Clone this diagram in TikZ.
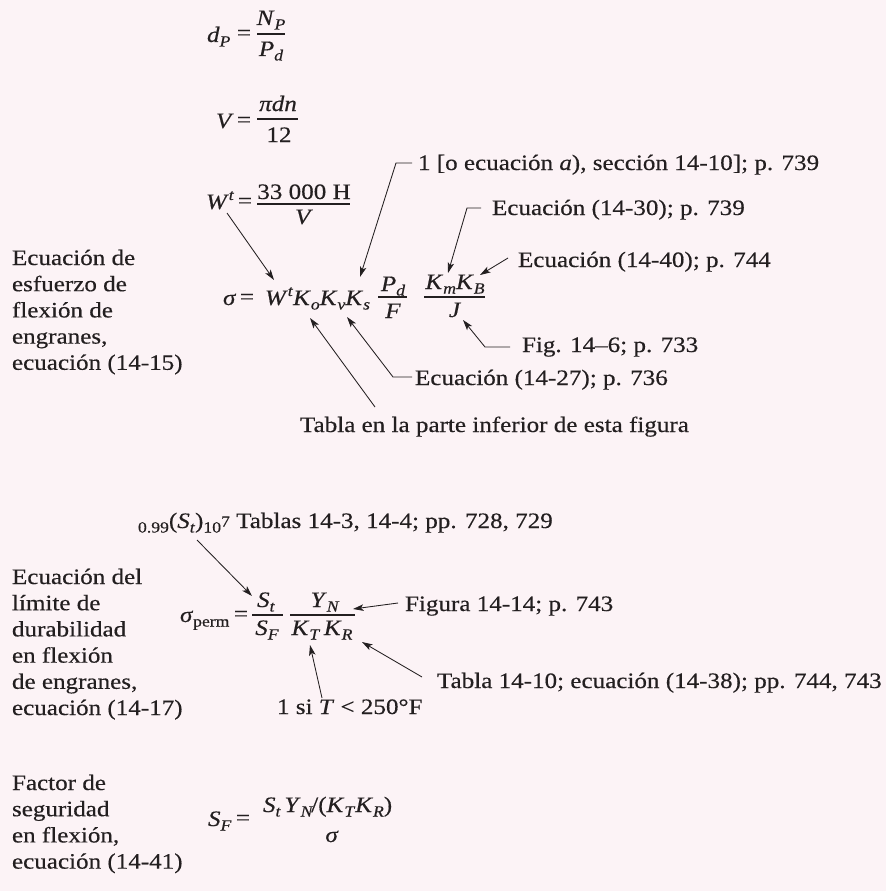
\documentclass[tikz,border=0pt]{standalone}
\usepackage{fontspec}
\setmainfont{Liberation Serif}[FakeStretch=1.14,FakeBold=0.4]
\usetikzlibrary{arrows.meta}
\definecolor{bg}{RGB}{252,243,246}
\definecolor{ink}{RGB}{35,31,32}
\newcommand\mi[1]{\textit{#1}}
\newcommand\sbs[1]{\raisebox{-4.5pt}{\fontsize{15.5}{15.5}\selectfont #1}}
\newcommand\sps[1]{\raisebox{9pt}{\fontsize{15.5}{15.5}\selectfont #1}}
\begin{document}
\begin{tikzpicture}[x=1pt,y=-1pt,
  every node/.style={inner sep=0pt, outer sep=0pt, text=ink, font=\fontsize{22}{26.2}\selectfont},
  lbl/.style={anchor=base west},
  ctr/.style={anchor=base},
  bar/.style={draw=ink, line width=1.1pt},
  lead/.style={draw=ink, line width=0.85pt},
  arr/.style={lead, -{Stealth[length=10.5pt,width=6.5pt,inset=2.5pt]}},
]
\fill[bg] (0,0) rectangle (886,891);
\useasboundingbox (0,0) rectangle (886,891);

% ---- d_P
\node[lbl] (dP) at (207,42) {\mi{d}\sbs{\mi{P}}};
\node[ctr] (eq1) at (244,40) {=};
\node[ctr] (NP) at (271,25) {\mi{N}\sbs{\mi{P}}};
\node[ctr] (Pd) at (271,56) {\mi{P}\sbs{\mi{d}}};
\draw[bar] (257,34) -- (285,34);

% ---- V
\node[lbl] (V) at (216,128) {\mi{V}};
\node[ctr] (eq2) at (244,127) {=};
\node[ctr] (pidn) at (278,111) {\mi{πdn}};
\node[ctr] (twelve) at (279,142) {12};
\draw[bar] (257,119) -- (298,119);

% ---- W^t
\node[lbl] (Wt) at (206,209) {\mi{W}\sps{\mi{t}}};
\node[ctr] (eq3) at (245,208) {=};
\node[ctr] (num3) at (304,199) {33 000 H};
\node[ctr] (den3) at (304,224) {\mi{V}};
\draw[bar] (257,204) -- (350,204);

% ---- sigma
\node[lbl] (sig) at (223,305) {\mi{σ}};
\node[ctr] (eq4) at (247,304) {=};
\node[lbl] (WK) at (265,305) {\mi{W}\sps{\mi{t}}\mi{K}\sbs{\mi{o}}\mi{K}\sbs{\mi{v}}\mi{K}\sbs{\mi{s}}};
\node[ctr] (Pd2) at (393,291) {\mi{P}\sbs{\mi{d}}};
\node[ctr] (F) at (393,318) {\mi{F}};
\draw[bar] (378,297) -- (407,297);
\node[ctr] (KmKB) at (455,289) {\mi{K}\sbs{\mi{m}}\mi{K}\sbs{\mi{B}}};
\node[ctr] (J) at (455,317) {\mi{J}};
\draw[bar] (424,297) -- (485,297);

% ---- labels top
\node[lbl] (l1) at (418,170) {1 [o ecuación \mi{a}), sección 14-10]; p. 739};
\node[lbl] (l2) at (492,215) {Ecuación (14-30); p. 739};
\node[lbl] (l3) at (518,267) {Ecuación (14-40); p. 744};
\node[lbl] (l4) at (522,352) {Fig. 14–6; p. 733};
\node[lbl] (l5) at (415,385) {Ecuación (14-27); p. 736};
\node[lbl] (l6) at (300,432) {Tabla en la parte inferior de esta figura};

\foreach \t [count=\i] in {Ecuación de, esfuerzo de, flexión de, {engranes,}, ecuación (14-15)}
  \node[lbl] (A\i) at (12,{265+26.2*(\i-1)}) {\t};

% connectors top
\coordinate (c1a) at (227,213); \coordinate (c1b) at (274,280);
\draw[arr] (c1a) -- (c1b);
\coordinate (c2a) at (412,163); \coordinate (c2b) at (396,163); \coordinate (c2c) at (360,277);
\draw[arr] (c2a) -- (c2b) -- (c2c);
\coordinate (c3a) at (481,208); \coordinate (c3b) at (467,208); \coordinate (c3c) at (448,273);
\draw[arr] (c3a) -- (c3b) -- (c3c);
\coordinate (c4a) at (508,258); \coordinate (c4b) at (480,275);
\draw[arr] (c4a) -- (c4b);
\coordinate (c5a) at (510,347); \coordinate (c5b) at (485,347); \coordinate (c5c) at (463,320);
\draw[arr] (c5a) -- (c5b) -- (c5c);
\coordinate (c6a) at (412,377); \coordinate (c6b) at (393,377); \coordinate (c6c) at (347,317);
\draw[arr] (c6a) -- (c6b) -- (c6c);
\coordinate (c7a) at (375,407); \coordinate (c7b) at (310,318);
\draw[arr] (c7a) -- (c7b);

% ---- sigma_perm
\node[lbl] (sigp) at (180,622) {\mi{σ}\sbs{perm}};
\node[ctr] (eq5) at (241,621) {=};
\node[ctr] (St) at (266,607) {\mi{S}\sbs{\mi{t}}};
\node[ctr] (SF) at (267,635) {\mi{S}\sbs{\mi{F}}};
\draw[bar] (252,615) -- (283,615);
\node[ctr] (YN) at (325,607) {\mi{Y}\sbs{\mi{N}}};
\node[ctr] (KTKR) at (322,635) {\mi{K}\sbs{\mi{T}}\,\mi{K}\sbs{\mi{R}}};
\draw[bar] (290,615) -- (355,615);

\node[lbl] (s99) at (138,528) {\sbs{0.99}(\mi{S}\sbs{\mi{t}})\sbs{10\raisebox{6pt}{7}} Tablas 14-3, 14-4; pp. 728, 729};
\node[lbl] (f1414) at (405,611) {Figura 14-14; p. 743};
\node[lbl] (t1410) at (437,688) {Tabla 14-10; ecuación (14-38); pp. 744, 743};
\node[lbl] (siT) at (277,714) {1 si \mi{T} < 250°F};

\foreach \t [count=\i] in {Ecuación del, límite de, durabilidad, en flexión, {de engranes,}, ecuación (14-17)}
  \node[lbl] (B\i) at (12,{584+26.2*(\i-1)}) {\t};

\coordinate (d1a) at (197,540); \coordinate (d1b) at (252,596);
\draw[arr] (d1a) -- (d1b);
\coordinate (d2a) at (398,603); \coordinate (d2b) at (353,609);
\draw[arr] (d2a) -- (d2b);
\coordinate (d3a) at (422,677); \coordinate (d3b) at (362,642);
\draw[arr] (d3a) -- (d3b);
\coordinate (d4a) at (322,698); \coordinate (d4b) at (310,645);
\draw[arr] (d4a) -- (d4b);

% ---- S_F
\foreach \t [count=\i] in {Factor de, seguridad, {en flexión,}, ecuación (14-41)}
  \node[lbl] (C\i) at (12,{790+26.2*(\i-1)}) {\t};
\node[lbl] (SF2) at (208,826) {\mi{S}\sbs{\mi{F}}};
\node[ctr] (eq6) at (243,825) {=};
\node[lbl] (num6) at (263,812) {\mi{S}\sbs{\mi{t}}\,\mi{Y}\sbs{\mi{N}}\kern-2pt/(\mi{K}\sbs{\mi{T}}\mi{K}\sbs{\mi{R}})};
\node[ctr] (den6) at (332,842) {\mi{σ}};
\end{tikzpicture}
\end{document}
